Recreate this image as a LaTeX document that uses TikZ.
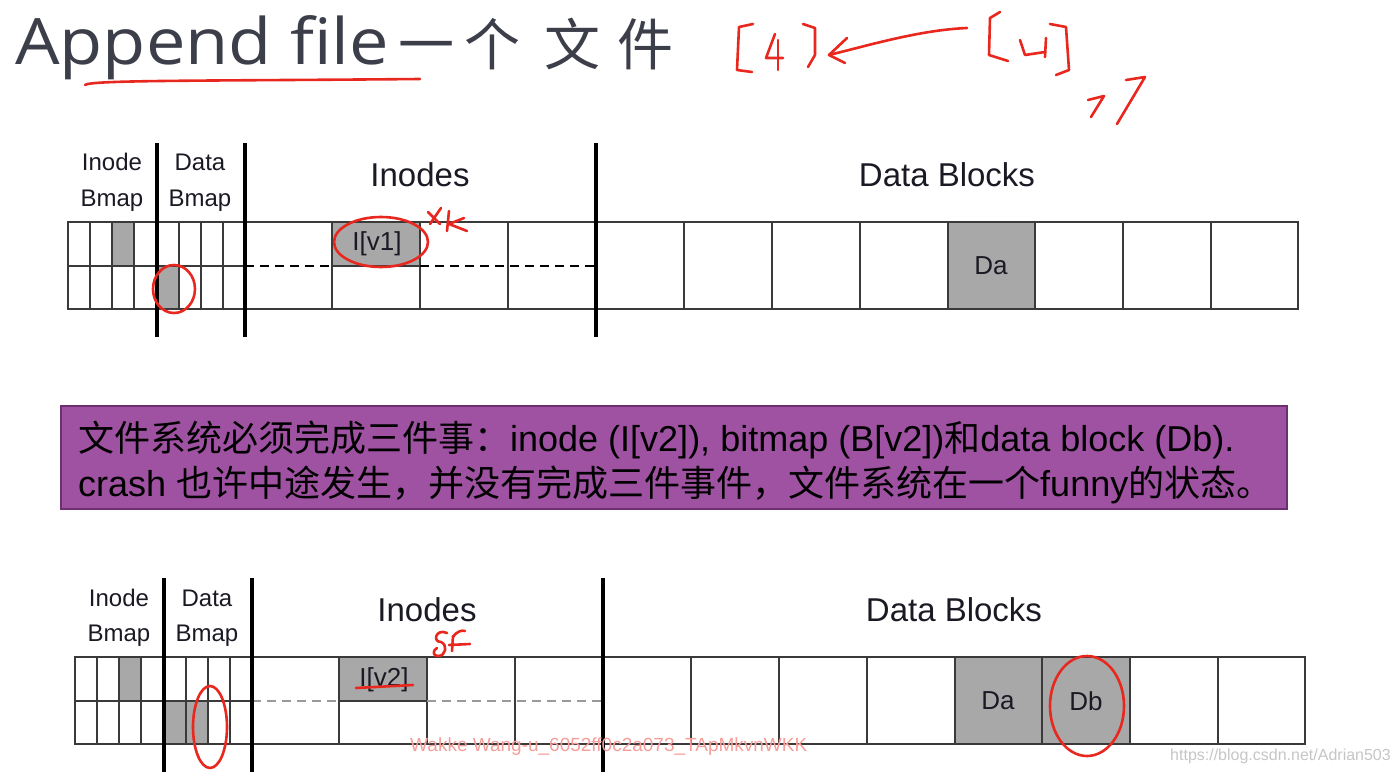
\documentclass[tikz,border=0pt]{standalone}
\usepackage{fontspec}
\setmainfont{Liberation Sans}
\newfontfamily\cjk{Noto Sans CJK SC}
\newfontfamily\titlefont{Open Sans}
\definecolor{cellgray}{HTML}{A8A8A8}
\definecolor{gridc}{HTML}{3A3A3A}
\definecolor{boxfill}{HTML}{A052A2}
\definecolor{boxdraw}{HTML}{6E2F70}
\definecolor{penred}{HTML}{E8281E}
\definecolor{titlec}{HTML}{3C3F49}
\definecolor{txt}{HTML}{1A1A24}
\tikzset{
  gridline/.style={draw=gridc,line width=1.4pt},
  dashline/.style={line width=1.6pt,dash pattern=on 9pt off 6pt},
  sepline/.style={draw=black,line width=4pt},
  hdrsmall/.style={font=\fontsize{24}{28}\selectfont,text=txt,inner sep=0pt,anchor=base},
  hdrlarge/.style={font=\fontsize{33}{38}\selectfont,text=txt,inner sep=0pt},
  celltxt/.style={font=\fontsize{26}{30}\selectfont,text=txt,inner sep=0pt},
  redpen/.style={draw=penred,line width=2.6pt,line cap=round,line join=round},
  boxline/.style={font=\fontsize{36}{40}\selectfont,text=black,inner sep=0pt,anchor=base west},
  titlecjk/.style={inner sep=0pt,text=titlec,font=\cjk\fontsize{56}{60}\selectfont,anchor=base},
}
\newcommand\fsgrid[1]{%
  \draw[gridline] (68,222) rectangle (1298,309);
  \foreach \x in {90,112,134,179,201,223,332,420,508,684,772,860,948,1035,1123,1211}
    \draw[gridline] (\x,222) -- (\x,309);
  \draw[gridline] (68,266) -- (245,266);
  \draw[gridline] (332,266) -- (420,266);
  \draw[dashline,draw=#1] (245,266) -- (332,266);
  \draw[dashline,draw=#1] (420,266) -- (596,266);
  \foreach \x in {157,245,596} \draw[sepline] (\x,143) -- (\x,337);
  \node[hdrsmall] (ib1) at (112,171) {Inode};
  \node[hdrsmall] (ib2) at (112,206) {Bmap};
  \node[hdrsmall] (db1) at (200,171) {Data};
  \node[hdrsmall] (db2) at (200,206) {Bmap};
  \node[hdrlarge] (inodes) at (420,175) {Inodes};
  \node[hdrlarge] (blocks) at (947,175) {Data Blocks};
  \node[celltxt] (da) at (991,266) {Da};
}
\begin{document}
\begin{tikzpicture}[x=1pt,y=-1pt]
\useasboundingbox[fill=white] (0,0) rectangle (1398,773);
% title
\node[anchor=base west,inner sep=0pt,text=titlec,font=\titlefont\fontsize{64}{70}\selectfont] (title) at (15,65) {\scalebox{1.1}[1]{Append file}};
\node[titlecjk] (t1) at (426,66) {一};
\node[titlecjk] (t2) at (492,66) {个};
\node[titlecjk] (t3) at (572,66) {文};
\node[titlecjk] (t4) at (645,66) {件};
% top table
\begin{scope}[name prefix=top-]
  \fill[cellgray] (112,222) rectangle (134,266);
  \fill[cellgray] (157,266) rectangle (179,309);
  \fill[cellgray] (332,222) rectangle (420,266);
  \fill[cellgray] (948,222) rectangle (1035,309);
  \fsgrid{black}
  \node[celltxt] (iv) at (377,244) {I[v1]};
\end{scope}
% purple box
\node[draw=boxdraw,fill=boxfill,line width=2pt,minimum width=1226pt,minimum height=103pt,inner sep=0pt] (box) at (674,457.5) {};
\node[boxline] (l1) at (78,451) {{\cjk 文件系统必须完成三件事：}inode (I[v2]), bitmap (B[v2]){\cjk 和}data block (Db).};
\node[boxline] (l2) at (78,496) {crash {\cjk 也许中途发生，并没有完成三件事件，文件系统在一个}funny{\cjk 的状态。}};
% bottom table
\begin{scope}[shift={(7,435)},name prefix=bot-]
  \fill[cellgray] (112,222) rectangle (134,266);
  \fill[cellgray] (157,266) rectangle (201,309);
  \fill[cellgray] (332,222) rectangle (420,266);
  \fill[cellgray] (948,222) rectangle (1123,309);
  \fsgrid{gray!80}
  \node[celltxt] (iv) at (377,245) {I[v2]};
  \node[celltxt] (dbk) at (1079,266) {Db};
\end{scope}
% red handwriting
\draw[redpen] (85,85) .. controls (90,80) and (200,81) .. (420,79);
\draw[redpen] (753,24) -- (739,27) -- (737,70) -- (752,72);
\draw[redpen] (775,34) -- (766,58) -- (783,58);
\draw[redpen] (778,40) -- (778,70);
\draw[redpen] (803,24) -- (815,28) -- (815,55) -- (808,67);
\draw[redpen] (967,28) .. controls (920,30) and (870,45) .. (829,55);
\draw[redpen] (847,38) -- (829,55) -- (845,63);
\draw[redpen] (1000,12) -- (990,18) -- (989,55) -- (1008,61);
\draw[redpen] (1020,40) -- (1025,55) -- (1045,52);
\draw[redpen] (1046,38) -- (1045,57);
\draw[redpen] (1050,24) -- (1066,27) -- (1069,70) -- (1056,75);
\draw[redpen] (1088,100) -- (1104,96) -- (1091,117);
\draw[redpen] (1126,80) -- (1145,77) -- (1117,124);
% top marks
\draw[redpen] (381,242) ellipse [x radius=47, y radius=25];
\draw[redpen] (428,212) -- (440,224);
\draw[redpen] (430,224) -- (441,208);
\draw[redpen] (449,211) -- (447,231);
\draw[redpen] (464,218) -- (449,224) -- (467,231);
\draw[redpen] (174,289) ellipse [x radius=21, y radius=24];
% bottom marks
\draw[redpen] (210,727) ellipse [x radius=17, y radius=41];
\draw[redpen] (1087,706) ellipse [x radius=37, y radius=50];
\draw[redpen] (356,688) -- (413,685);
\draw[redpen] (447,633) .. controls (436,628) and (432,642) .. (441,642) .. controls (448,645) and (446,656) .. (438,656) .. controls (432,656) and (433,650) .. (437,648);
\draw[redpen] (453,636) -- (452,651);
\draw[redpen] (449,645) -- (470,644);
\draw[redpen] (453,637) .. controls (457,631) and (462,630) .. (465,631);
% watermarks
\node[anchor=base west,inner sep=0pt,text=penred!45,font=\fontsize{19}{21}\selectfont] (wm1) at (410,751) {Wakke Wang-u\_6052ff0c2a073\_TApMkvnWKK};
\node[anchor=base west,inner sep=0pt,text=gray!45,font=\fontsize{16}{18}\selectfont] (wm2) at (1170,760) {https://blog.csdn.net/Adrian503};
\end{tikzpicture}
\end{document}
